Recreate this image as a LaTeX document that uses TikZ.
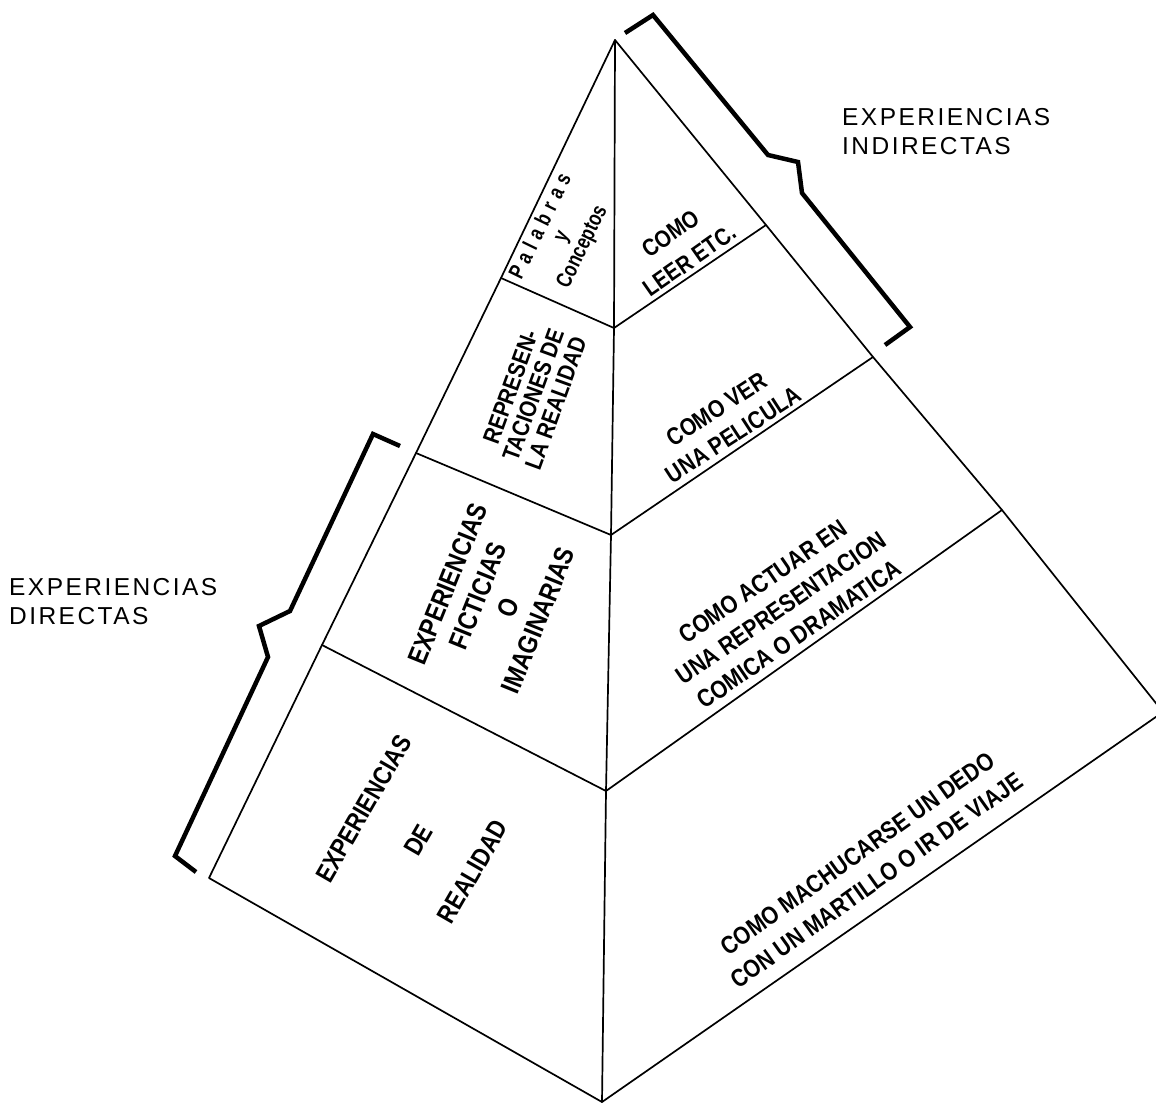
\documentclass[tikz,border=0pt]{standalone}
\usepackage{fontspec}
\setmainfont{Liberation Sans}
\newfontfamily\condfont[FakeStretch=0.85]{Liberation Sans}
\newfontfamily\narrowfont[FakeStretch=0.78]{Liberation Sans}
\newfontfamily\labelfont[LetterSpace=10]{Liberation Sans}

\begin{document}
\begin{tikzpicture}[x=1pt,y=-1pt,
  edge/.style={line width=1.7pt, line join=round, line cap=round},
  brace/.style={line width=4.5pt, line join=miter},
  facetext/.style={font=\condfont\bfseries, align=center, inner sep=0pt},
  sidelabel/.style={font=\labelfont\fontsize{24.5}{29}\selectfont, align=left, inner sep=0pt, anchor=north west}]
\useasboundingbox (0,0) rectangle (1156,1104);

% corners of the pyramid
\coordinate (apex) at (615,40);
\coordinate (bottom) at (602,1102);
\coordinate (lcorner) at (209,878);
\coordinate (rcorner) at (1163,712);

% front ridge
\coordinate (r1) at (614,328);
\coordinate (r2) at (611,535);
\coordinate (r3) at (606,791);

% left edge
\coordinate (l1) at (322,645);
\coordinate (l2) at (416,453);
\coordinate (l3) at (501,278);

% right edge
\coordinate (q1) at (766,225);
\coordinate (q2) at (873,357);
\coordinate (q3) at (1002,510);

% outline
\draw[edge] (apex) -- (l3) -- (l2) -- (l1) -- (lcorner) -- (bottom) -- (rcorner) -- (q3) -- (q2) -- (q1) -- (apex);
\draw[edge] (apex) -- (r1) -- (r2) -- (r3) -- (bottom);

% level lines, left face
\draw[edge] (l3) -- (r1);
\draw[edge] (l2) -- (r2);
\draw[edge] (l1) -- (r3);
% level lines, right face
\draw[edge] (r1) -- (q1);
\draw[edge] (r2) -- (q2);
\draw[edge] (r3) -- (q3);

% bracket for the indirect experiences
\coordinate (ia) at (625,33);
\coordinate (ib) at (653,15);
\coordinate (ic) at (768,155);
\coordinate (id) at (798,162);
\coordinate (ie) at (802,193);
\coordinate (if) at (910,327);
\coordinate (ig) at (885,345);
\draw[brace] (ia) -- (ib) -- (ic) -- (id) -- (ie) -- (if) -- (ig);

% bracket for the direct experiences
\coordinate (da) at (400,446);
\coordinate (db) at (373,434);
\coordinate (dc) at (290,611);
\coordinate (dd) at (259,626);
\coordinate (de) at (268,657);
\coordinate (df) at (175,856);
\coordinate (dg) at (196,872);
\draw[brace] (da) -- (db) -- (dc) -- (dd) -- (de) -- (df) -- (dg);

% side labels
\node[sidelabel] (indirectas) at (842,108) {EXPERIENCIAS\\INDIRECTAS};
\node[sidelabel] (directas) at (9,578) {EXPERIENCIAS\\DIRECTAS};

% left face
\node[facetext, rotate=64, font=\narrowfont\bfseries\fontsize{22}{23}\selectfont] (palabras) at (562,237)
  {{\spaceskip=0.28em P a l a b r a s}\\y\\Conceptos};
\node[facetext, rotate=70, font=\condfont\bfseries\fontsize{24}{24}\selectfont] (represent) at (533,395)
  {REPRESEN-\\TACIONES DE\\LA REALIDAD};
\node[facetext, rotate=68, font=\condfont\bfseries\fontsize{27}{32.5}\selectfont] (ficticias) at (493,602)
  {EXPERIENCIAS\\FICTICIAS\\O\\IMAGINARIAS};
\node[facetext, rotate=60, font=\condfont\bfseries\fontsize{26}{63}\selectfont] (realidad) at (418,840)
  {EXPERIENCIAS\\DE\\REALIDAD};

% right face
\node[facetext, rotate=35, font=\condfont\bfseries\fontsize{24}{33}\selectfont] (leer) at (680,247)
  {COMO\\LEER ETC.};
\node[facetext, rotate=33, font=\condfont\bfseries\fontsize{24.5}{30.5}\selectfont] (pelicula) at (725,422)
  {COMO VER\\UNA PELICULA};
\node[facetext, rotate=34.5, font=\condfont\bfseries\fontsize{25}{32}\selectfont] (actuar) at (781,608)
  {COMO ACTUAR EN\\UNA REPRESENTACION\\COMICA O DRAMATICA};
\node[facetext, rotate=35.5, font=\condfont\bfseries\fontsize{25}{33}\selectfont] (martillo) at (867,867)
  {COMO MACHUCARSE UN DEDO\\CON UN MARTILLO O IR DE VIAJE};
\end{tikzpicture}
\end{document}
